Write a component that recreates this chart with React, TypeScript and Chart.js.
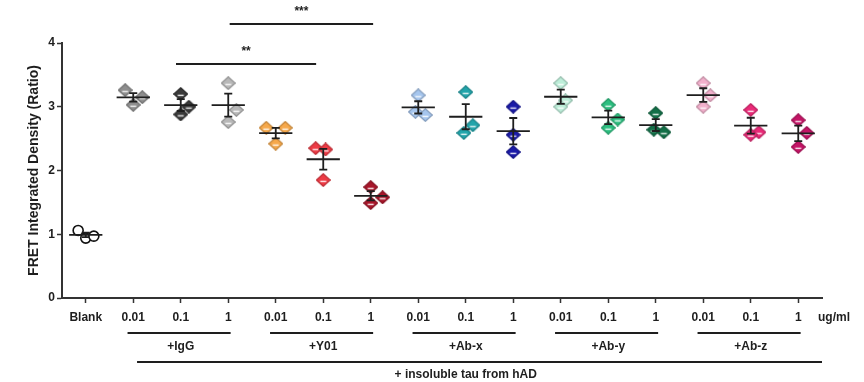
import React, { useEffect, useRef } from 'react';
import { Chart, registerables } from 'chart.js';

Chart.register(...registerables);

// ---------- data ----------
const CATEGORIES = ['Blank', '0.01', '0.1', '1', '0.01', '0.1', '1', '0.01', '0.1', '1', '0.01', '0.1', '1', '0.01', '0.1', '1'];
const GROUP_LABELS = ['+IgG', '+Y01', '+Ab-x', '+Ab-y', '+Ab-z'];
const GROUP_FIRST = [1, 4, 7, 10, 13];
const GROUP_LAST = [3, 6, 9, 12, 15];
const Y_TICKS = [0, 1, 2, 3, 4];
const UNIT_LABEL = 'ug/ml';
const BOTTOM_LABEL = '+ insoluble tau from hAD';
const Y_TITLE = 'FRET Integrated Density (Ratio)';

const BLANK = [1.06, 0.94, 0.97];
const IGG_001 = [3.26, 3.03, 3.15];
const IGG_01 = [3.2, 2.88, 3.0];
const IGG_1 = [3.37, 2.95, 2.76];
const Y01_001 = [2.67, 2.67, 2.42];
const Y01_01 = [2.35, 2.33, 1.85];
const Y01_1 = [1.74, 1.58, 1.49];
const ABX_001 = [3.18, 2.92, 2.87];
const ABX_01 = [3.23, 2.71, 2.59];
const ABX_1 = [3.0, 2.56, 2.29];
const ABY_001 = [3.37, 3.1, 3.0];
const ABY_01 = [3.03, 2.8, 2.67];
const ABY_1 = [2.9, 2.64, 2.6];
const ABZ_001 = [3.37, 3.18, 3.0];
const ABZ_01 = [2.95, 2.6, 2.56];
const ABZ_1 = [2.79, 2.59, 2.37];

const SERIES = [BLANK, IGG_001, IGG_01, IGG_1, Y01_001, Y01_01, Y01_1, ABX_001, ABX_01, ABX_1, ABY_001, ABY_01, ABY_1, ABZ_001, ABZ_01, ABZ_1];

// significance brackets (category units / value units)
const SIG_LABELS = ['**', '***'];
const SIG_FROM = [1.9, 3.03];
const SIG_TO = [4.85, 6.05];
const SIG_LEVEL = [3.67, 4.3];

// ---------- styles ----------
const COLORS = ['#ffffff', '#8e8e8e', '#3a3a3a', '#b8b8b8', '#f6a84a', '#ee3b45', '#a8162a', '#a6c6ee', '#22a5ab', '#1a1aa8', '#bdeed9', '#2cbf80', '#137048', '#f2b0cc', '#ea2a78', '#c41466'];
const JITTER = [
  [-0.16, 0, 0.17],
  [-0.17, 0, 0.19],
  [0, 0, 0.17],
  [0, 0.17, 0],
  [-0.2, 0.2, 0],
  [-0.16, 0.05, 0],
  [0, 0.25, 0],
  [0, -0.06, 0.15],
  [0, 0.15, -0.04],
  [0, 0, 0],
  [0, 0.1, 0],
  [0, 0.2, 0],
  [0, -0.04, 0.17],
  [0, 0.15, 0],
  [0, 0.17, 0],
  [0, 0.18, 0],
];
const FONT = '"Liberation Sans", Arial, sans-serif';
const INK = '#1e1e1e';

function darken(hex: string, f: number) {
  const n = parseInt(hex.slice(1), 16);
  const r = Math.round(((n >> 16) & 255) * f);
  const g = Math.round(((n >> 8) & 255) * f);
  const b = Math.round((n & 255) * f);
  return `rgb(${r},${g},${b})`;
}

function makeDiamond(color: string) {
  const c = document.createElement('canvas');
  const w = 15, h = 14;
  c.width = w; c.height = h;
  const g = c.getContext('2d')!;
  g.beginPath();
  g.moveTo(w / 2, 0.7);
  g.lineTo(w - 0.7, h / 2);
  g.lineTo(w / 2, h - 0.7);
  g.lineTo(0.7, h / 2);
  g.closePath();
  g.fillStyle = color;
  g.fill();
  g.strokeStyle = darken(color, 0.8);
  g.lineWidth = 1.2;
  g.stroke();
  g.strokeStyle = 'rgba(255,255,255,0.85)';
  g.lineWidth = 1.5;
  g.beginPath();
  g.moveTo(w * 0.3, h * 0.6);
  g.lineTo(w * 0.7, h * 0.6);
  g.stroke();
  return c;
}

function stats(arr: number[]) {
  const m = arr.reduce((a, b) => a + b, 0) / arr.length;
  const sd = Math.sqrt(arr.reduce((a, b) => a + (b - m) * (b - m), 0) / (arr.length - 1));
  return { mean: m, sem: sd / Math.sqrt(arr.length) };
}

const summaryPlugin = {
  id: 'summary',
  afterDatasetsDraw(chart: any) {
    const { ctx, scales } = chart;
    const xs = scales.x, ys = scales.y;
    ctx.save();
    ctx.strokeStyle = INK;
    ctx.lineWidth = 1.8;
    SERIES.forEach((vals, i) => {
      const { mean, sem } = stats(vals);
      const cx = xs.getPixelForValue(i);
      const half = xs.getPixelForValue(i + 0.35) - cx;
      const ym = ys.getPixelForValue(mean);
      const yt = ys.getPixelForValue(mean + sem);
      const yb = ys.getPixelForValue(mean - sem);
      ctx.beginPath();
      ctx.moveTo(cx - half, ym); ctx.lineTo(cx + half, ym);
      ctx.moveTo(cx, yt); ctx.lineTo(cx, yb);
      ctx.moveTo(cx - 4, yt); ctx.lineTo(cx + 4, yt);
      ctx.moveTo(cx - 4, yb); ctx.lineTo(cx + 4, yb);
      ctx.stroke();
    });
    ctx.restore();
  },
  afterDraw(chart: any) {
    const { ctx, scales, chartArea } = chart;
    const xs = scales.x, ys = scales.y;
    ctx.save();
    ctx.strokeStyle = INK;
    ctx.fillStyle = INK;
    ctx.lineWidth = 2;
    ctx.font = `bold 12px ${FONT}`;
    ctx.textAlign = 'center';
    ctx.textBaseline = 'middle';
    // significance
    SIG_LABELS.forEach((lab, k) => {
      const x1 = xs.getPixelForValue(SIG_FROM[k]);
      const x2 = xs.getPixelForValue(SIG_TO[k]);
      const y = ys.getPixelForValue(SIG_LEVEL[k]);
      ctx.beginPath(); ctx.moveTo(x1, y); ctx.lineTo(x2, y); ctx.stroke();
      ctx.fillText(lab, (x1 + x2) / 2, y - 12);
    });
    // unit label
    ctx.textAlign = 'left';
    ctx.fillText(UNIT_LABEL, chartArea.right - 4, chartArea.bottom + 20);
    // group lines
    ctx.textAlign = 'center';
    const gy = chartArea.bottom + 35;
    GROUP_LABELS.forEach((lab, k) => {
      const x1 = xs.getPixelForValue(GROUP_FIRST[k] - 0.12);
      const x2 = xs.getPixelForValue(GROUP_LAST[k] + 0.05);
      ctx.beginPath(); ctx.moveTo(x1, gy); ctx.lineTo(x2, gy); ctx.stroke();
      ctx.fillText(lab, xs.getPixelForValue((GROUP_FIRST[k] + GROUP_LAST[k]) / 2), gy + 14);
    });
    const by = chartArea.bottom + 64;
    ctx.beginPath();
    ctx.moveTo(xs.getPixelForValue(1.08), by);
    ctx.lineTo(chartArea.right, by);
    ctx.stroke();
    ctx.fillText(BOTTOM_LABEL, xs.getPixelForValue(8.0), by + 13);
    ctx.restore();
  },
};

export default function App() {
  const ref = useRef<HTMLCanvasElement | null>(null);
  useEffect(() => {
    const canvas = ref.current!;
    const datasets = SERIES.map((vals, i) => {
      const isBlank = i === 0;
      return {
        label: CATEGORIES[i],
        data: vals.map((v, j) => ({ x: i + JITTER[i][j], y: v })),
        pointStyle: isBlank ? 'circle' : makeDiamond(COLORS[i]),
        pointRadius: isBlank ? 5 : 7,
        backgroundColor: COLORS[i],
        borderColor: isBlank ? '#111' : darken(COLORS[i], 0.8),
        borderWidth: isBlank ? 1.6 : 1,
        showLine: false,
      };
    });
    const chart = new Chart(canvas, {
      type: 'scatter',
      data: { datasets },
      plugins: [summaryPlugin],
      options: {
        animation: false,
        responsive: false,
        layout: { padding: { top: 43, right: 42, bottom: 0, left: 0 } },
        plugins: { legend: { display: false }, tooltip: { enabled: false } },
        scales: {
          x: {
            type: 'linear',
            min: -0.5,
            max: 15.5,
            afterBuildTicks: (axis: any) => {
              axis.ticks = CATEGORIES.map((_, i) => ({ value: i }));
            },
            afterFit: (axis: any) => { axis.height = 84; },
            border: { display: true, color: '#333', width: 2 },
            grid: { drawOnChartArea: false, drawTicks: true, tickLength: 5, tickWidth: 1.5, tickColor: '#333' },
            ticks: {
              autoSkip: false,
              maxRotation: 0,
              padding: 7,
              color: INK,
              font: { family: FONT, size: 12, weight: 'bold' },
              callback: (_v: any, idx: number) => CATEGORIES[idx],
            },
          },
          y: {
            type: 'linear',
            min: 0,
            max: 4,
            afterBuildTicks: (axis: any) => {
              axis.ticks = Y_TICKS.map((v) => ({ value: v }));
            },
            afterFit: (axis: any) => { axis.width = 62; },
            border: { display: true, color: '#333', width: 2 },
            grid: { drawOnChartArea: false, drawTicks: true, tickLength: 5, tickWidth: 1.5, tickColor: '#333' },
            ticks: {
              padding: 2,
              color: INK,
              font: { family: FONT, size: 12, weight: 'bold' },
              callback: (v: any) => String(v),
            },
            title: {
              display: true,
              text: Y_TITLE,
              color: INK,
              font: { family: FONT, size: 14, weight: 'bold' },
              padding: { top: 26, bottom: 0 },
            },
          },
        },
      },
    });
    return () => chart.destroy();
  }, []);
  return (
    <div style={{ position: 'fixed', left: 0, top: 0, width: 864, height: 382, background: '#fff' }}>
      <canvas ref={ref} width={864} height={382} style={{ display: 'block' }} />
    </div>
  );
}
